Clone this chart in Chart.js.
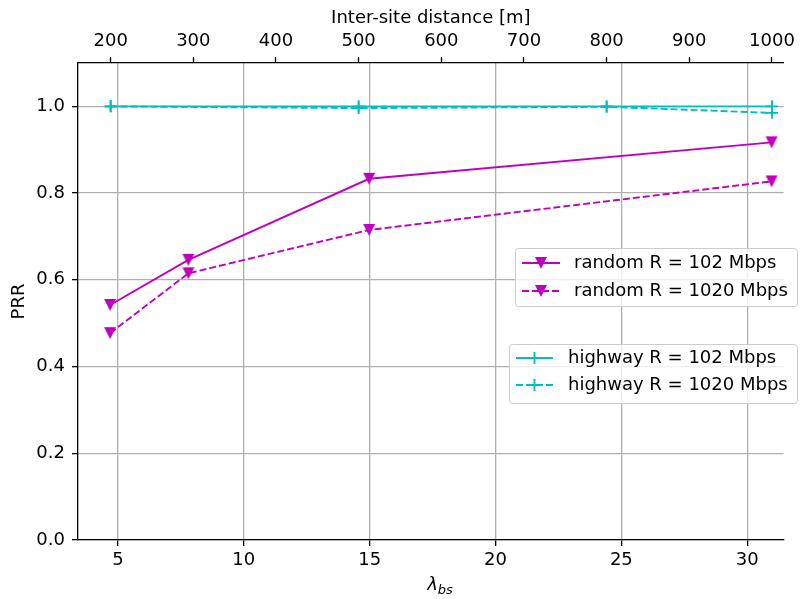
<!DOCTYPE html>
<html>
<head>
<meta charset="utf-8">
<script src="https://cdn.jsdelivr.net/npm/chart.js@4.4.1/dist/chart.umd.min.js"></script>
<style>
  html, body { margin: 0; padding: 0; background: #fff; overflow: hidden; }
  canvas { display: block; }
</style>
</head>
<body>
<canvas id="chart" width="800" height="599"></canvas>
<script>
// PRR vs lambda_bs (bottom) and inter-site distance (top)

const LAMBDA = [4.69, 7.80, 14.98, 30.97];
const RANDOM_102 = [0.542, 0.646, 0.833, 0.917];
const RANDOM_1020 = [0.477, 0.615, 0.715, 0.827];

const ISD = [200, 500, 800, 1000];
const HIGHWAY_102 = [1.0, 1.0, 1.0, 1.0];
const HIGHWAY_1020 = [1.0, 0.996, 0.999, 0.985];

const X_TICKS = [5, 10, 15, 20, 25, 30];
const TOP_TICKS = [200, 300, 400, 500, 600, 700, 800, 900, 1000];
const Y_TICKS = [0.0, 0.2, 0.4, 0.6, 0.8, 1.0];

const MAGENTA = "#bf00bf";
const CYAN = "#00bfbf";
const FONT = "DejaVu Sans";
const FS = 18;

function triMarker(color) {
  const c = document.createElement("canvas");
  c.width = 14; c.height = 14;
  const g = c.getContext("2d");
  g.fillStyle = color;
  g.beginPath();
  g.moveTo(1, 1); g.lineTo(13, 1); g.lineTo(7, 13); g.closePath();
  g.fill();
  return c;
}
const TRI = triMarker(MAGENTA);

function pts(xs, ys) { return xs.map((x, i) => ({ x, y: ys[i] })); }
function fixTicks(list) { return s => { s.ticks = list.map(v => ({ value: v })); }; }

const datasets = [
  { label: "random R = 102 Mbps", data: pts(LAMBDA, RANDOM_102), xAxisID: "x",
    borderColor: MAGENTA, backgroundColor: MAGENTA, borderWidth: 1.9,
    pointStyle: TRI, legendGroup: 0 },
  { label: "random R = 1020 Mbps", data: pts(LAMBDA, RANDOM_1020), xAxisID: "x",
    borderColor: MAGENTA, backgroundColor: MAGENTA, borderWidth: 1.9, borderDash: [7, 3],
    pointStyle: TRI, legendGroup: 0 },
  { label: "highway R = 102 Mbps", data: pts(ISD, HIGHWAY_102), xAxisID: "x2",
    borderColor: CYAN, backgroundColor: CYAN, borderWidth: 1.9,
    pointStyle: "cross", pointRadius: 6, pointBorderWidth: 1.9, legendGroup: 1 },
  { label: "highway R = 1020 Mbps", data: pts(ISD, HIGHWAY_1020), xAxisID: "x2",
    borderColor: CYAN, backgroundColor: CYAN, borderWidth: 1.9, borderDash: [7, 3],
    pointStyle: "cross", pointRadius: 6, pointBorderWidth: 1.9, legendGroup: 1 },
];

// two matplotlib-like legend boxes
const LEGENDS = [
  { box: [515, 248, 282, 58], lineX: [522, 560], textX: 574, rows: [263, 291] },
  { box: [509, 344, 288, 59], lineX: [516, 553], textX: 568, rows: [358, 385] },
];

const legendPlugin = {
  id: "mplLegends",
  afterDatasetsDraw(chart) {
    const ctx = chart.ctx;
    LEGENDS.forEach((L, gi) => {
      const [bx, by, bw, bh] = L.box;
      ctx.save();
      ctx.fillStyle = "rgba(255,255,255,0.8)";
      ctx.strokeStyle = "#cccccc";
      ctx.lineWidth = 1;
      ctx.beginPath();
      ctx.roundRect(bx + 0.5, by + 0.5, bw, bh, 3);
      ctx.fill(); ctx.stroke();
      const items = chart.data.datasets.filter(d => d.legendGroup === gi);
      items.forEach((d, i) => {
        const y = L.rows[i];
        ctx.strokeStyle = d.borderColor;
        ctx.lineWidth = d.borderWidth;
        ctx.setLineDash(d.borderDash || []);
        ctx.beginPath();
        ctx.moveTo(L.lineX[0], y); ctx.lineTo(L.lineX[1], y);
        ctx.stroke();
        ctx.setLineDash([]);
        const mx = (L.lineX[0] + L.lineX[1]) / 2;
        if (d.pointStyle === "cross") {
          ctx.lineWidth = d.pointBorderWidth;
          ctx.beginPath();
          ctx.moveTo(mx - 6, y); ctx.lineTo(mx + 6, y);
          ctx.moveTo(mx, y - 6); ctx.lineTo(mx, y + 6);
          ctx.stroke();
        } else {
          ctx.drawImage(d.pointStyle, Math.round(mx - 7), Math.round(y - 7));
        }
        ctx.fillStyle = "#000";
        ctx.font = FS + "px '" + FONT + "'";
        ctx.textBaseline = "middle";
        ctx.textAlign = "left";
        ctx.fillText(d.label, L.textX, y);
      });
      ctx.restore();
    });
  },
  afterDraw(chart) {
    // x-axis title: lambda with italic subscript "bs"
    const ctx = chart.ctx;
    ctx.save();
    ctx.fillStyle = "#000";
    ctx.textBaseline = "alphabetic";
    ctx.font = "italic " + FS + "px '" + FONT + "'";
    const lw = ctx.measureText("λ").width;
    ctx.font = "italic " + Math.round(FS * 0.72) + "px '" + FONT + "'";
    const sw = ctx.measureText("bs").width;
    const x0 = 440 - (lw + sw) / 2;
    ctx.font = "italic " + FS + "px '" + FONT + "'";
    ctx.fillText("λ", x0, 590);
    ctx.font = "italic " + Math.round(FS * 0.72) + "px '" + FONT + "'";
    ctx.fillText("bs", x0 + lw, 594);
    ctx.restore();
  }
};

const tickFont = { family: FONT, size: FS };
const border = { color: "#000", width: 1.3 };

new Chart(document.getElementById("chart"), {
  type: "line",
  data: { datasets },
  plugins: [legendPlugin],
  options: {
    responsive: false,
    animation: false,
    devicePixelRatio: 1,
    layout: { padding: { left: 0, right: 1, top: 0, bottom: 0 } },
    plugins: { legend: { display: false }, tooltip: { enabled: false } },
    elements: { line: { tension: 0, fill: false } },
    scales: {
      x: {
        type: "linear", position: "bottom", min: 3.414, max: 31.447,
        afterBuildTicks: fixTicks(X_TICKS),
        afterFit: s => { s.height = 59; },
        border,
        grid: { color: "#b0b0b0", lineWidth: 1.3, tickColor: "#000", tickLength: 6, tickWidth: 1.3 },
        ticks: { color: "#000", font: tickFont, padding: 4, maxRotation: 0, autoSkip: false, callback: v => String(v) }
      },
      x2: {
        type: "linear", position: "top", min: 160.5, max: 1014.1,
        afterBuildTicks: fixTicks(TOP_TICKS),
        afterFit: s => { s.height = 63; },
        border,
        grid: { drawOnChartArea: false, tickColor: "#000", tickLength: 6, tickWidth: 1.3 },
        ticks: { color: "#000", font: tickFont, padding: 5, maxRotation: 0, autoSkip: false, callback: v => String(v) },
        title: { display: true, text: "Inter-site distance [m]", color: "#000", font: tickFont, padding: { top: 8, bottom: 0 } }
      },
      y: {
        type: "linear", position: "left", min: 0, max: 1.1,
        afterBuildTicks: fixTicks(Y_TICKS),
        afterFit: s => { s.width = 78; },
        border,
        grid: { color: "#b0b0b0", lineWidth: 1.3, tickColor: "#000", tickLength: 6, tickWidth: 1.3 },
        ticks: { color: "#000", font: tickFont, padding: 7, callback: v => v.toFixed(1) },
        title: { display: true, text: "PRR", color: "#000", font: tickFont, padding: { top: 9, bottom: 0 } }
      }
    }
  }
});
</script>
</body>
</html>
